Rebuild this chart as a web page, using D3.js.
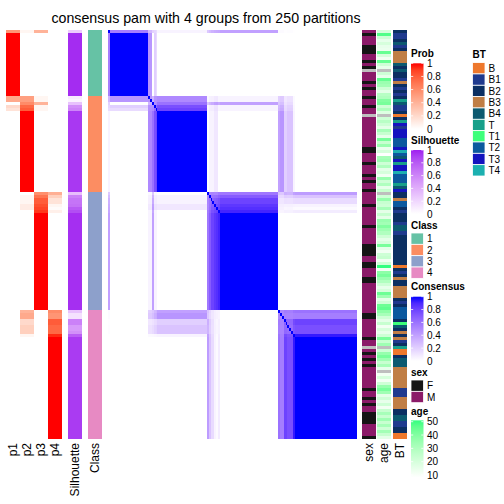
<!DOCTYPE html>
<html><head><meta charset="utf-8">
<script src="https://cdn.jsdelivr.net/npm/d3@7"></script>
<style>
body{margin:0;background:#fff;}
svg{display:block;font-family:"Liberation Sans",Arial,Helvetica,sans-serif;}
</style></head><body>
<svg id="chart" width="504" height="504"></svg>
<script>
// ---------------- data ----------------
const title = "consensus pam with 4 groups from 250 partitions";
const classLabels = ["1","2","3","4"];
const classColors = ["#66C2A5","#FC8D62","#8DA0CB","#E78AC3"];
const probNames = ["p1","p2","p3","p4"];

// class of each sample (rows in display order)
const sampleClass = [
1,1,1,1,1,1,1,1,1,1, 1,1,1,1,1,1,1,1,1,1, 1,1,2,2,2,2,2,2,2,2,
2,2,2,2,2,2,2,2,2,2, 2,2,2,2,2,2,2,2,2,2, 2,2,2,2,3,3,3,3,3,3,
3,3,3,3,3,3,3,3,3,3, 3,3,3,3,3,3,3,3,3,3, 3,3,3,3,3,3,3,3,3,3,
3,3,3,4,4,4,4,4,4,4, 4,4,4,4,4,4,4,4,4,4, 4,4,4,4,4,4,4,4,4,4,
4,4,4,4,4,4,4,4,4,4, 4,4,4,4,4,4];

// membership probabilities
const p1 = [
.55,1,1,1,1,1,1,1,1,1, 1,1,1,1,1,1,1,1,1,1, 1,1,.45,.45,0,.2,.15,0,0,0,
0,0,0,0,0,0,0,0,0,0, 0,0,0,0,0,0,0,0,0,0, 0,0,0,0,0,0,0,0,0,0,
0,0,0,0,0,0,0,0,0,0, 0,0,0,0,0,0,0,0,0,0, 0,0,0,0,0,0,0,0,0,0,
0,0,0,0,0,0,0,0,0,0, 0,0,0,0,0,0,0,0,0,0, 0,0,0,0,0,0,0,0,0,0,
0,0,0,0,0,0,0,0,0,0, 0,0,0,0,0,0];
const p2 = [
.05,0,0,0,0,0,0,0,0,0, 0,0,0,0,0,0,0,0,0,0, 0,0,.5,.5,.6,.75,.8,1,1,1,
1,1,1,1,1,1,1,1,1,1, 1,1,1,1,1,1,1,1,1,1, 1,1,1,1,0,.05,.05,.05,.1,.1,
0,0,0,0,0,0,0,0,0,0, 0,0,0,0,0,0,0,0,0,0, 0,0,0,0,0,0,0,0,0,0,
0,0,0,.4,.45,.45,.2,.2,.25,.25, .25,.05,0,0,0,0,0,0,0,0, 0,0,0,0,0,0,0,0,0,0,
0,0,0,0,0,0,0,0,0,0, 0,0,0,0,0,0];
const p3 = [
.4,0,0,0,0,0,0,0,0,0, 0,0,0,0,0,0,0,0,0,0, 0,0,.05,.05,.4,.05,.05,0,0,0,
0,0,0,0,0,0,0,0,0,0, 0,0,0,0,0,0,0,0,0,0, 0,0,0,0,.58,.7,.8,.8,.85,.88,
.92,1,1,1,1,1,1,1,1,1, 1,1,1,1,1,1,1,1,1,1, 1,1,1,1,1,1,1,1,1,1,
1,1,1,0,0,0,0,0,0,0, 0,0,0,0,0,0,0,0,0,0, 0,0,0,0,0,0,0,0,0,0,
0,0,0,0,0,0,0,0,0,0, 0,0,0,0,0,0];
const p4 = [
0,0,0,0,0,0,0,0,0,0, 0,0,0,0,0,0,0,0,0,0, 0,0,0,0,0,0,0,0,0,0,
0,0,0,0,0,0,0,0,0,0, 0,0,0,0,0,0,0,0,0,0, 0,0,0,0,.42,.25,.15,.15,.05,.02,
.08,0,0,0,0,0,0,0,0,0, 0,0,0,0,0,0,0,0,0,0, 0,0,0,0,0,0,0,0,0,0,
0,0,0,.6,.55,.55,.8,.8,.75,.75, .75,.95,1,1,1,1,1,1,1,1, 1,1,1,1,1,1,1,1,1,1,
1,1,1,1,1,1,1,1,1,1, 1,1,1,1,1,1];

const silhouette = [
.25,.97,.97,.97,.97,.97,.97,.97,.97,.97, .97,.97,.97,.97,.97,.97,.97,.97,.97,.97,
.97,.97,.1,.06,.3,.55,.6,.93,.93,.93, .93,.93,.93,.93,.93,.93,.93,.93,.93,.93,
.93,.93,.93,.93,.93,.93,.93,.93,.93,.93, .93,.93,.93,.93,.32,.62,.68,.68,.7,.8,
.85,.96,.96,.96,.96,.96,.96,.96,.96,.96, .96,.96,.96,.96,.96,.96,.96,.96,.96,.96,
.96,.96,.96,.96,.96,.96,.96,.96,.96,.96, .96,.96,.96,.3,.15,.15,.62,.62,.5,.5,
.55,.78,.92,.92,.92,.92,.92,.92,.92,.92, .92,.92,.92,.92,.92,.92,.92,.92,.92,.92,
.92,.92,.92,.92,.92,.92,.92,.92,.92,.92, .92,.92,.92,.92,.92,.92];

// sample annotations (null = NA)
const sex = [
"M","F","M","M","M","F","F","F","M","M", "F","M","F",null,"M","M","M","F","M","F",
"M","M","F","M","M","F","M","M",null,"M", "M","M","M","M","M","M","M","M","M","F",
"F","M","M","M","F","M","M","M","F","M", "F","M","M","F","M","M","M","M","F","M",
"M","M","M","M","M","F","M","M","M","M", "M","F","F","F","F","M","M","F","F","M",
"M","M","F","F","M","M","M","M","M","M", "M","M","M","M","F","F","M","M","M","M",
"M","M","F","M","M",null,"M","F","M","F", "M","F","M","M","M","M","M","M","M","F",
"M","M","F","M","F","M","M","F","F","F", "F","M","M","M","M","F"];
const age = [
20,48,22,15,20,15,14,45,20,12, 45,22,15,null,22,15,45,35,33,22,
16,28,30,40,42,22,30,18,null,22, 28,22,16,32,24,15,42,24,35,14,
20,8,32,34,22,30,16,20,12,35, 22,30,15,24,null,22,36,24,22,32,
16,24,16,35,33,40,34,30,22,16, 20,42,16,12,22,24,12,22,51,12,
38,42,35,30,22,15,20,44,34,16, 22,44,46,38,32,22,16,24,12,20,
15,22,42,24,34,null,22,36,42,34, 24,32,15,null,12,20,12,22,36,42,
34,16,22,15,22,12,24,32,24,34, 24,32,22,33,24,16];
const BT = [
"B2","B1","B1","B2","B4","B1","B2","B3","B3","B3", "B3","B4","B2","B4","B2","B2","B1","B3","B2","B1",
"B2","B1","B2","T","B4","B1","B1","B2","B","B2", "T","T3","B1","T3","T3","T3","T2","T2","T2","T3",
"T4","T2","B4","T3","T","T3","T3","T4","T2","T2", "T2","T","B4","T3","B2","B2","B3","T2","T2","B2",
"B1","B2","B2","B2","B1","B4","B4","B1","B2","B2", "B2","B2","B2","B2","B2","B2","B2","B2","B","B2",
"B1","B2","B3","B2","B2","B3","B3","B3","B3","B2", "B1","B2","T2","T2","T2","T2","B2","T1","B4","B2",
"B3","B2","B3","B1","B2","T","B","B","B2","B4", "B4","B4","B3","B3","B3","B3","B3","B3","B3","B1",
"B1","B1","B3","B3","B3","B3","B2","B2","B4","B4", "B1","B1","B2","B2","B","B"];

const sexLevels = ["F","M"];
const sexColors = ["#151515","#8B1A68"];
const btLevels = ["B","B1","B2","B3","B4","T","T1","T2","T3","T4"];
const btColors = ["#EE782C","#1F3A8E","#0B2F62","#C07E45","#0C5A70","#17A08A","#3DFF7A","#0B599E","#1414BF","#1CB0B0"];
const naColor = "#BEBEBE";
const probTicks = [0,0.2,0.4,0.6,0.8,1];
const ageTicks = [10,20,30,40,50];
const ageRange = [8,51];

// ---------------- drawing ----------------
const N = sampleClass.length;
const svg = d3.select("#chart");
const y = d3.scaleBand().domain(d3.range(N)).range([30, 439]);
const xProb = d3.scaleBand().domain(probNames).range([6, 62]);
const xMat = d3.scaleBand().domain(d3.range(N)).range([108, 357]);

const lab = (a,b)=>d3.scaleLinear().domain([0,1]).range([a,b]).interpolate(d3.interpolateLab).clamp(true);
const probColor = lab("#FFFFFF","#FF0000");
const silColor = lab("#FFFFFF","#A020F0");
const consColor = lab("#FFFFFF","#0000FF");
const ageColor = d3.scaleLinear().domain(ageRange).range(["#FFFFFF","#33FF80"]).interpolate(d3.interpolateLab).clamp(true);
const classColor = d3.scaleOrdinal().domain([1,2,3,4]).range(classColors);
const sexColor = d3.scaleOrdinal().domain(sexLevels).range(sexColors);
const btColor = d3.scaleOrdinal().domain(btLevels).range(btColors);

const cells = svg.append("g").attr("shape-rendering","crispEdges");

function column(values, x0, w, colorFn){
  cells.append("g").selectAll("rect").data(values).join("rect")
    .attr("x", x0).attr("y", (d,i)=>y(i))
    .attr("width", w).attr("height", y.bandwidth()+0.3)
    .attr("fill", d => d==null ? naColor : colorFn(d));
}
const probs = [p1,p2,p3,p4];
probNames.forEach((nm,k)=>column(probs[k], xProb(nm), xProb.bandwidth(), probColor));
column(silhouette, 68, 14, silColor);
column(sampleClass, 88, 14, classColor);

// consensus matrix: co-membership of sample pairs from the membership probabilities
const memb = d3.range(N).map(i => probs.map(p => p[i]));
const cons = [];
for (let i=0;i<N;i++) for (let j=0;j<N;j++){
  const v = i===j ? 1 : d3.sum(memb[i], (m,k)=>m*memb[j][k]);
  cons.push({i,j,v});
}
cells.append("g").selectAll("rect").data(cons).join("rect")
  .attr("x", d=>xMat(d.j)).attr("y", d=>y(d.i))
  .attr("width", xMat.bandwidth()+0.3).attr("height", y.bandwidth()+0.3)
  .attr("fill", d=>consColor(d.v));

column(sex, 362, 14, sexColor);
column(age, 377, 14, ageColor);
column(BT, 393, 14, btColor);

// title
svg.append("text").attr("x", 206).attr("y", 23).attr("text-anchor","middle")
  .attr("font-size", 14.2).attr("fill","#000").text(title);

// bottom labels
const bottomLabels = [
  ["p1", xProb("p1")+7], ["p2", xProb("p2")+7], ["p3", xProb("p3")+7], ["p4", xProb("p4")+7],
  ["Silhouette", 75], ["Class", 95], ["sex", 369], ["age", 384], ["BT", 400]];
svg.append("g").selectAll("text").data(bottomLabels).join("text")
  .attr("transform", d=>`translate(${d[1]},443) rotate(-90)`)
  .attr("text-anchor","end").attr("dy","0.36em")
  .attr("font-size", 12).text(d=>d[0]);

// legends
const LX = 411, BW = 12.5, GH = 11.34;
function legendTitle(x, yb, t){
  svg.append("text").attr("x", x).attr("y", yb).attr("font-size", 10)
    .attr("font-weight","bold").text(t);
}
let gid = 0;
function contLegend(x, titleY, t, top, h, domain, colorFn, ticks, fmt){
  legendTitle(x, titleY, t);
  const id = "g"+(gid++);
  const grad = svg.append("defs").append("linearGradient").attr("id", id)
    .attr("x1",0).attr("y1",1).attr("x2",0).attr("y2",0);
  d3.range(0,1.0001,0.1).forEach(f=>{
    grad.append("stop").attr("offset", f).attr("stop-color", colorFn(domain[0]+f*(domain[1]-domain[0])));
  });
  svg.append("rect").attr("x", x).attr("y", top).attr("width", BW).attr("height", h)
    .attr("fill", `url(#${id})`);
  const s = d3.scaleLinear().domain(domain).range([top+h, top]);
  ticks.forEach(v=>{
    const yy = s(v);
    svg.append("line").attr("x1", x).attr("x2", x+2.2).attr("y1", yy).attr("y2", yy).attr("stroke","#fff").attr("stroke-width",0.8);
    svg.append("line").attr("x1", x+BW-2.2).attr("x2", x+BW).attr("y1", yy).attr("y2", yy).attr("stroke","#fff").attr("stroke-width",0.8);
    svg.append("text").attr("x", x+BW+3.5).attr("y", yy).attr("dy","0.36em")
      .attr("font-size", 10).text(fmt(v));
  });
}
function discLegend(x, titleY, t, top, levels, colorFn){
  legendTitle(x, titleY, t);
  levels.forEach((lv,k)=>{
    svg.append("rect").attr("x", x).attr("y", top+k*GH).attr("width", BW).attr("height", GH)
      .attr("fill", colorFn(lv)).attr("stroke","#fff").attr("stroke-width",0.8);
    svg.append("text").attr("x", x+BW+3.5).attr("y", top+k*GH+GH/2).attr("dy","0.36em")
      .attr("font-size", 10).text(lv);
  });
}
const f01 = v => v===0 ? "0" : v===1 ? "1" : d3.format(".1f")(v);
contLegend(LX, 56.5, "Prob", 63.3, 65.7, [0,1], probColor, probTicks, f01);
contLegend(LX, 143.5, "Silhouette", 150, 64, [0,1], silColor, probTicks, f01);
discLegend(LX, 229, "Class", 233, classLabels.map(Number), classColor);
contLegend(LX, 290, "Consensus", 296.7, 64.3, [0,1], consColor, probTicks, f01);
discLegend(LX, 375.5, "sex", 380, sexLevels, sexColor);
const ageTop = 421.7 - (ageRange[1]-50)*1.333;
contLegend(LX, 415, "age", ageTop, (ageRange[1]-ageRange[0])*1.333, ageRange, ageColor, ageTicks, d=>String(d));
discLegend(472.5, 58, "BT", 62.6, btLevels, btColor);
</script>
</body></html>
